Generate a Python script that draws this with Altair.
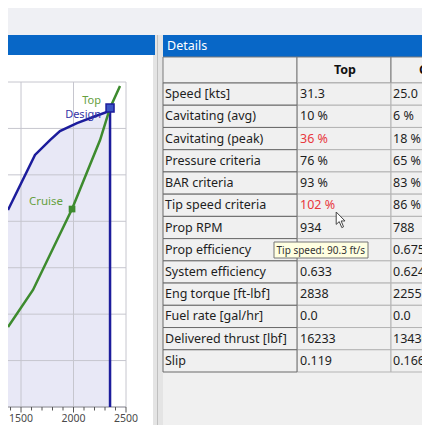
import altair as alt
import pandas as pd

# ---------------- data ----------------
blue_rpm = [1376, 1633, 1776, 1871, 2033, 2186, 2319, 2348]
blue_pwr = [2121, 2714, 2875, 2972, 3058, 3123, 3177, 3220]
green_rpm = [1376, 1614, 1986, 2253, 2348, 2443]
green_pwr = [861, 1260, 2132, 2875, 3220, 3457]
point_names = ["Top", "Cruise"]
point_rpm = [2348, 1986]
point_pwr = [3220, 2132]
design_label = "Design"
x_ticks = [1400, 1500, 1600, 1700, 1800, 1900, 2000, 2100, 2200, 2300, 2400, 2500]
x_grid = [1500, 2000, 2500]
y_grid = [0, 500, 1000, 1500, 2000, 2500, 3000, 3500]

panel_title = "Details"
column_names = ["Top", "Cruise"]
row_labels = ["Speed [kts]", "Cavitating (avg)", "Cavitating (peak)", "Pressure criteria",
              "BAR criteria", "Tip speed criteria", "Prop RPM", "Prop efficiency",
              "System efficiency", "Eng torque [ft-lbf]", "Fuel rate [gal/hr]",
              "Delivered thrust [lbf]", "Slip"]
# the Top / Prop efficiency value is hidden under the tooltip in the reference
top_values = ["31.3", "10 %", "36 %", "76 %", "93 %", "102 %", "934", "",
              "0.633", "2838", "0.0", "16233", "0.119"]
cruise_values = ["25.0", "6 %", "18 %", "65 %", "83 %", "86 %", "788", "0.675",
                 "0.624", "2255", "0.0", "13436", "0.166"]
top_warn = [False, False, True, False, False, True, False, False, False, False, False, False, False]
tooltip_text = "Tip speed: 90.3 ft/s"

# ---------------- frames ----------------
blue_df = pd.DataFrame({"rpm": blue_rpm, "pwr": blue_pwr})
green_df = pd.DataFrame({"rpm": green_rpm, "pwr": green_pwr})
pts_df = pd.DataFrame({"name": point_names, "rpm": point_rpm, "pwr": point_pwr})
xt_df = pd.DataFrame({"v": x_ticks})
xg_df = pd.DataFrame({"v": x_grid})
yg_df = pd.DataFrame({"v": y_grid})
tbl = pd.DataFrame({"label": row_labels, "top": top_values, "cruise": cruise_values, "warn": top_warn})
one = pd.DataFrame({"a": [0]})

FONT = "Noto Sans"
W, H = 414, 417
NAVY = "#1c1c9c"
GREEN = "#3d8b2e"
BLUE_BAR = "#0867c7"
TFS = 12.5

xs = alt.Scale(domain=[1376, 2500], range=[0, 118], nice=False, zero=False)
ys = alt.Scale(domain=[0, 3500], range=[399, 74], nice=False, zero=False)
is_major = "datum.v % 500 === 0"


def X(ax=None):
    return alt.X("rpm:Q", scale=xs, axis=ax)


def Y():
    return alt.Y("pwr:Q", scale=ys, axis=None)


def box(x1, y1, x2, y2, fill, stroke=None, sw=1):
    kw = {"fill": fill}
    if stroke:
        kw.update(stroke=stroke, strokeWidth=sw)
    return alt.Chart(one).mark_rect(**kw).encode(
        x=alt.value(x1), x2=alt.value(x2), y=alt.value(y1), y2=alt.value(y2))


# ---------------- plot ----------------
area = alt.Chart(blue_df).mark_area(color="#e8e8f6").encode(x=X(), y=Y(), y2=alt.datum(0))
vgrid = alt.Chart(xg_df).mark_rule(color="#c6c6ce", strokeWidth=1).encode(
    x=alt.X("v:Q", scale=xs, axis=None),
    y=alt.Y(datum=0, scale=ys, axis=None), y2=alt.datum(3500))
hgrid = alt.Chart(yg_df).mark_rule(color="#c6c6ce", strokeWidth=1).encode(
    y=alt.Y("v:Q", scale=ys, axis=None),
    x=alt.X(datum=1376, scale=xs, axis=None), x2=alt.datum(2500))
# x axis: baseline, minor/major ticks and labels
x_base = alt.Chart(one).mark_rule(color="#9a9aa2", strokeWidth=1).encode(
    y=alt.Y(datum=0, scale=ys, axis=None),
    x=alt.X(datum=1376, scale=xs, axis=None), x2=alt.datum(2500))
minor_ticks = alt.Chart(xt_df).transform_filter(f"!({is_major})").mark_rule(
    color="#555555", strokeWidth=1).encode(
    x=alt.X("v:Q", scale=xs, axis=None), y=alt.Y(datum=0, scale=ys, axis=None), y2=alt.value(402.5))
major_ticks = alt.Chart(xt_df).transform_filter(is_major).mark_rule(
    color="#555555", strokeWidth=1).encode(
    x=alt.X("v:Q", scale=xs, axis=None), y=alt.Y(datum=0, scale=ys, axis=None), y2=alt.value(404.5))
tick_labels = alt.Chart(xt_df).transform_filter(is_major).mark_text(
    font=FONT, fontSize=10.5, color="#4a4a4a", baseline="middle").encode(
    x=alt.X("v:Q", scale=xs, axis=None), y=alt.value(411), text=alt.Text("v:Q", format="d"))

blue_line = alt.Chart(blue_df).mark_line(color=NAVY, strokeWidth=2.5).encode(x=X(), y=Y())
green_line = alt.Chart(green_df).mark_line(color=GREEN, strokeWidth=2.5).encode(x=X(), y=Y())
top_f = "datum.name === 'Top'"
cru_f = "datum.name === 'Cruise'"
blue_rule = alt.Chart(pts_df).transform_filter(top_f).mark_rule(color=NAVY, strokeWidth=2.5).encode(
    x=X(), y=Y(), y2=alt.datum(0))
top_mark = alt.Chart(pts_df).transform_filter(top_f).mark_point(
    shape="square", filled=True, size=64, fill="#3a55c4", stroke=NAVY, strokeWidth=1.5, opacity=1
).encode(x=X(), y=Y())
cru_mark = alt.Chart(pts_df).transform_filter(cru_f).mark_point(
    shape="square", filled=True, size=45, color=GREEN, opacity=1).encode(x=X(), y=Y())
top_lbl = alt.Chart(pts_df).transform_filter(top_f).mark_text(
    align="right", dx=-9, dy=-7, font=FONT, fontSize=11, color="#66a040").encode(
    x=X(), y=Y(), text="name:N")
des_lbl = alt.Chart(pts_df).transform_filter(top_f).mark_text(
    align="right", dx=-9, dy=7, font=FONT, fontSize=11, color="#3434a6", text=design_label).encode(
    x=X(), y=Y())
cru_lbl = alt.Chart(pts_df).transform_filter(cru_f).mark_text(
    align="right", dx=-9, dy=-7, font=FONT, fontSize=11.5, color="#66a040").encode(
    x=X(), y=Y(), text="name:N")

plot = alt.layer(area, hgrid, vgrid, x_base, minor_ticks, major_ticks, tick_labels,
                 blue_line, blue_rule, green_line, top_mark, cru_mark, top_lbl, des_lbl, cru_lbl)

# ---------------- table ----------------
yrow = alt.Y("label:N", scale=alt.Scale(domain=row_labels, range=[75, 364], paddingInner=0, paddingOuter=0),
             axis=None)
top_cells = alt.Chart(tbl).mark_rect(fill="#f0f0f0", stroke="#b4b4b4").encode(
    x=alt.value(289), x2=alt.value(383), y=yrow)
cru_cells = alt.Chart(tbl).mark_rect(fill="#f0f0f0", stroke="#b4b4b4").encode(
    x=alt.value(383), x2=alt.value(480), y=yrow)
lab_cells = alt.Chart(tbl).mark_rect(fill="#f0f0f0", stroke="#6a6a6a").encode(
    x=alt.value(155), x2=alt.value(289), y=yrow)
lab_text = alt.Chart(tbl).mark_text(align="left", font=FONT, fontSize=TFS, color="#1e1e1e").encode(
    x=alt.value(157), y=yrow, text="label:N")
top_text = alt.Chart(tbl).mark_text(align="left", font=FONT, fontSize=TFS).encode(
    x=alt.value(292), y=yrow, text="top:N",
    color=alt.condition("datum.warn", alt.value("#e8383d"), alt.value("#1e1e1e")))
cru_text = alt.Chart(tbl).mark_text(align="left", font=FONT, fontSize=TFS, color="#1e1e1e").encode(
    x=alt.value(385), y=yrow, text="cruise:N")
table = alt.layer(top_cells, cru_cells, lab_cells, lab_text, top_text, cru_text)

hdr_cells = alt.layer(
    box(155, 49, 289, 75, "#f0f0f0", "#7a7a7a"),
    box(289, 49, 383, 75, "#f0f0f0", "#7a7a7a"),
    box(383, 49, 480, 75, "#f0f0f0", "#7a7a7a"),
)
hdr_top = alt.Chart(one).mark_text(text=column_names[0], font=FONT, fontSize=TFS, fontWeight="bold",
                                   color="#111111").encode(x=alt.value(337), y=alt.value(62))
hdr_cru = alt.Chart(one).mark_text(text=column_names[1], font=FONT, fontSize=TFS, fontWeight="bold",
                                   align="left", color="#111111").encode(x=alt.value(411), y=alt.value(62))

# ---------------- chrome ----------------
chrome = alt.layer(
    box(0, 0, 414, 27, "#eff0f4"),
    box(0, 47, 145, 417, "#ffffff"),
    box(145, 27, 155, 417, "#e4e4e4"),
    box(0, 27, 147, 47, BLUE_BAR),
    box(155, 27, 414, 49, BLUE_BAR),
)
sep = alt.Chart(one).mark_rule(color="#c0c0c0").encode(
    x=alt.value(149.5), y=alt.value(27), y2=alt.value(417))
details_txt = alt.Chart(one).mark_text(text=panel_title, align="left", font=FONT, fontSize=12.5,
                                       color="white").encode(x=alt.value(159), y=alt.value(38))

tip_box = box(266, 234, 360, 250, "#ffffe1", "#767676")
tip_txt = alt.Chart(one).mark_text(text=tooltip_text, align="left", font=FONT, fontSize=10,
                                   color="#333333").encode(x=alt.value(268.5), y=alt.value(242.5))
cursor = alt.Chart(one).mark_point(
    shape="M-0.6,-1L-0.6,0.55L-0.22,0.2L0.1,0.95L0.32,0.85L0.02,0.12L0.5,0.12Z",
    size=256, filled=True, fill="white", stroke="#444444", strokeWidth=1, opacity=1
).encode(x=alt.value(333), y=alt.value(212))

chart = alt.layer(
    chrome, sep, details_txt, plot, hdr_cells, hdr_top, hdr_cru, table, tip_box, tip_txt, cursor
).resolve_scale(x="independent", y="independent").properties(
    width=W, height=H, autosize=alt.AutoSizeParams(type="none"), padding=0,
    background="#f0f0f0",
).configure_view(stroke="transparent")

chart.save("out.html", embed_options={"renderer": "svg", "actions": False})
